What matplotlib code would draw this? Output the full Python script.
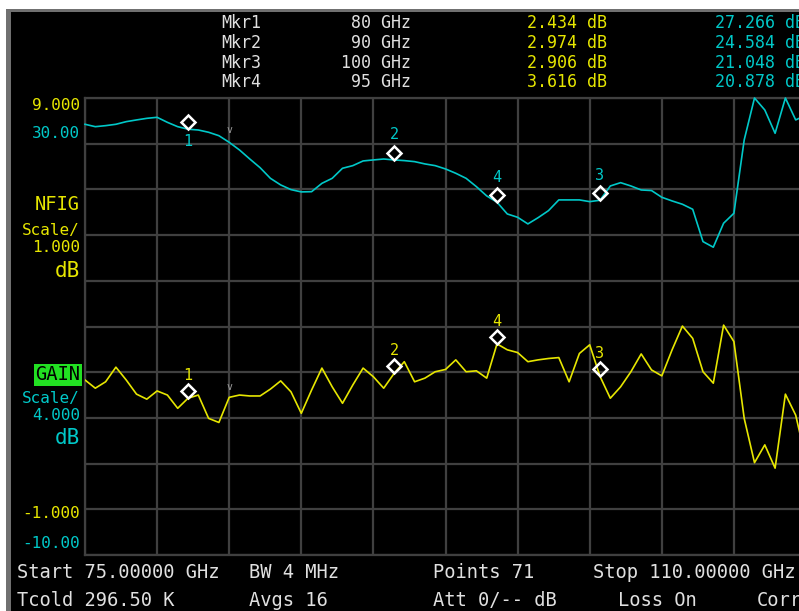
import numpy as np
import matplotlib
matplotlib.use("Agg")
import matplotlib.pyplot as plt
from matplotlib.patches import Rectangle
from matplotlib.transforms import ScaledTranslation

# sweep: 71 points from 75 to 110 GHz
freq = np.linspace(75, 110, 71)

# noise figure trace (yellow), dB
nf = [2.83, 2.65, 2.79, 3.11, 2.83, 2.52, 2.41, 2.59, 2.50, 2.21,
      2.43, 2.50, 1.99, 1.90, 2.45, 2.50, 2.48, 2.48, 2.63, 2.81,
      2.57, 2.10, 2.61, 3.09, 2.68, 2.32, 2.72, 3.09, 2.90, 2.65,
      2.97, 3.23, 2.79, 2.87, 3.01, 3.06, 3.27, 3.01, 3.03, 2.87,
      3.62, 3.49, 3.43, 3.23, 3.27, 3.30, 3.32, 2.79, 3.41, 3.60,
      2.91, 2.43, 2.68, 3.01, 3.40, 3.05, 2.92, 3.49, 4.01, 3.74,
      3.01, 2.76, 4.03, 3.67, 1.99, 1.02, 1.41, 0.90, 2.52, 2.06,
      1.08]

# gain trace (cyan), dB
gain = [27.70, 27.49, 27.58, 27.70, 27.93, 28.08, 28.22, 28.31, 27.87, 27.49,
        27.27, 27.20, 27.00, 26.70, 26.12, 25.45, 24.66, 23.90, 22.97, 22.39,
        21.98, 21.78, 21.80, 22.53, 22.97, 23.85, 24.08, 24.49, 24.58, 24.66,
        24.58, 24.52, 24.43, 24.23, 24.08, 23.79, 23.41, 22.97, 22.24, 21.43,
        20.88, 19.85, 19.56, 18.98, 19.53, 20.14, 21.08, 21.08, 21.08, 20.93,
        21.05, 22.30, 22.59, 22.30, 21.95, 21.90, 21.31, 20.99, 20.70, 20.26,
        17.43, 16.94, 19.04, 19.91, 26.33, 31.50, 28.95, 26.91, 30.10, 28.08,
        28.50]

mkr_names = ["Mkr1", "Mkr2", "Mkr3", "Mkr4"]
mkr_labels = ["1", "2", "3", "4"]
mkr_freq = [80, 90, 100, 95]
mkr_nf = [2.434, 2.974, 2.906, 3.616]
mkr_gain = [27.266, 24.584, 21.048, 20.878]

# small reference chevron position
ref_idx = 14

YEL = "#e6e600"
CYN = "#00c8c8"
GRID = "#404040"
WHT = "#e0e0e0"
MONO = "DejaVu Sans Mono"

W, H = 799, 611
fig = plt.figure(figsize=(W / 100, H / 100), dpi=100)
fig.patch.set_facecolor("white")


def fx(x):
    return x / W


def fy(y):
    return 1 - y / H


# instrument screen
fig.patches.append(Rectangle((fx(6), 0), 1, fy(9), transform=fig.transFigure,
                             facecolor="#707070", edgecolor="none", zorder=-2))
fig.patches.append(Rectangle((fx(11), 0), 1, fy(12), transform=fig.transFigure,
                             facecolor="black", edgecolor="none", zorder=-1))

ax = fig.add_axes([fx(85), fy(555), 721 / W, 457 / H])
ax.set_facecolor("black")
ax.set_xlim(75, 110)
ax.set_ylim(-1, 9)
ax.set_xticks(np.linspace(75, 110, 11))
ax.set_yticks(np.linspace(-1, 9, 11))
ax.grid(True, color=GRID, lw=1.6)
ax.set_axisbelow(True)
ax.tick_params(length=0, labelleft=False, labelbottom=False)
for s in ax.spines.values():
    s.set_color(GRID)
    s.set_linewidth(1.6)

ax2 = ax.twinx()
ax2.set_ylim(-10, 30)
ax2.tick_params(length=0, labelright=False)
for s in ax2.spines.values():
    s.set_visible(False)

ax.plot(freq, nf, color=YEL, lw=1.2, zorder=3)
ax2.plot(freq, np.clip(gain, -10, 30), color=CYN, lw=1.2, clip_on=False, zorder=3)

# markers: diamond sits just above the trace point
up = ScaledTranslation(0, 7 / 100, fig.dpi_scale_trans)
ax.plot(mkr_freq, mkr_nf, ls="none", marker="D", ms=6.8, mfc="none",
        mec="white", mew=1.8, transform=ax.transData + up, zorder=5)
ax2.plot(mkr_freq, mkr_gain, ls="none", marker="D", ms=6.8, mfc="none",
         mec="white", mew=1.8, transform=ax2.transData + up, zorder=5)

for f, v, lab in zip(mkr_freq, mkr_nf, mkr_labels):
    ax.annotate(lab, (f, v), xytext=(0, 23), textcoords="offset pixels",
                ha="center", va="center", color=YEL, fontsize=11, family=MONO)
for f, v, lab in zip(mkr_freq, mkr_gain, mkr_labels):
    dy = -12 if lab == "1" else 25
    ax2.annotate(lab, (f, v), xytext=(0, dy), textcoords="offset pixels",
                 ha="center", va="center", color=CYN, fontsize=11, family=MONO)

# small reference chevrons
ax.annotate("v", (freq[ref_idx], nf[ref_idx]), xytext=(0, 10),
            textcoords="offset pixels", ha="center", va="center",
            color="#a0a0a0", fontsize=7, family=MONO)
ax2.annotate("v", (freq[ref_idx], gain[ref_idx]), xytext=(0, 12),
             textcoords="offset pixels", ha="center", va="center",
             color="#a0a0a0", fontsize=7, family=MONO)

# marker readout table
rows_y = [23, 43, 63, 82]
for name, f, n, g, y in zip(mkr_names, mkr_freq, mkr_nf, mkr_gain, rows_y):
    fig.text(fx(221), fy(y), name, color=WHT, fontsize=12, family=MONO, va="center")
    fig.text(fx(411), fy(y), f"{f} GHz", color=WHT, fontsize=12, family=MONO,
             va="center", ha="right")
    fig.text(fx(607), fy(y), f"{n:.3f} dB", color=YEL, fontsize=12, family=MONO,
             va="center", ha="right")
    fig.text(fx(715), fy(y), f"{g:.3f} dB", color=CYN, fontsize=12, family=MONO,
             va="center")

# left scale labels
left = [("9.000", 105, YEL, 11.5), ("30.00", 133, CYN, 11.5),
        ("NFIG", 205, YEL, 13.5), ("Scale/", 230, YEL, 11.5),
        ("1.000", 248, YEL, 11.5), ("dB", 271, YEL, 15),
        ("Scale/", 398, CYN, 11.5), ("4.000", 416, CYN, 11.5),
        ("dB", 438, CYN, 15), ("-1.000", 513, YEL, 11.5),
        ("-10.00", 543, CYN, 11.5)]
for txt, y, c, fs in left:
    fig.text(fx(80), fy(y), txt, color=c, fontsize=fs, family=MONO,
             ha="right", va="center")
fig.text(fx(80), fy(375), "GAIN", color="black", fontsize=13.5, family=MONO,
         ha="right", va="center",
         bbox=dict(boxstyle="square,pad=0.08", fc="#22e022", ec="none"))

# status lines
status = [("Start 75.00000 GHz", 17, 573), ("BW 4 MHz", 249, 573),
          ("Points 71", 433, 573), ("Stop 110.00000 GHz", 593, 573),
          ("Tcold 296.50 K", 17, 600), ("Avgs 16", 249, 600),
          ("Att 0/-- dB", 433, 600), ("Loss On", 618, 600), ("Corr", 757, 600)]
for txt, x, y in status:
    fig.text(fx(x), fy(y), txt, color=WHT, fontsize=13.5, family=MONO, va="center")

fig.savefig("out.png", dpi=100, facecolor=fig.get_facecolor())
